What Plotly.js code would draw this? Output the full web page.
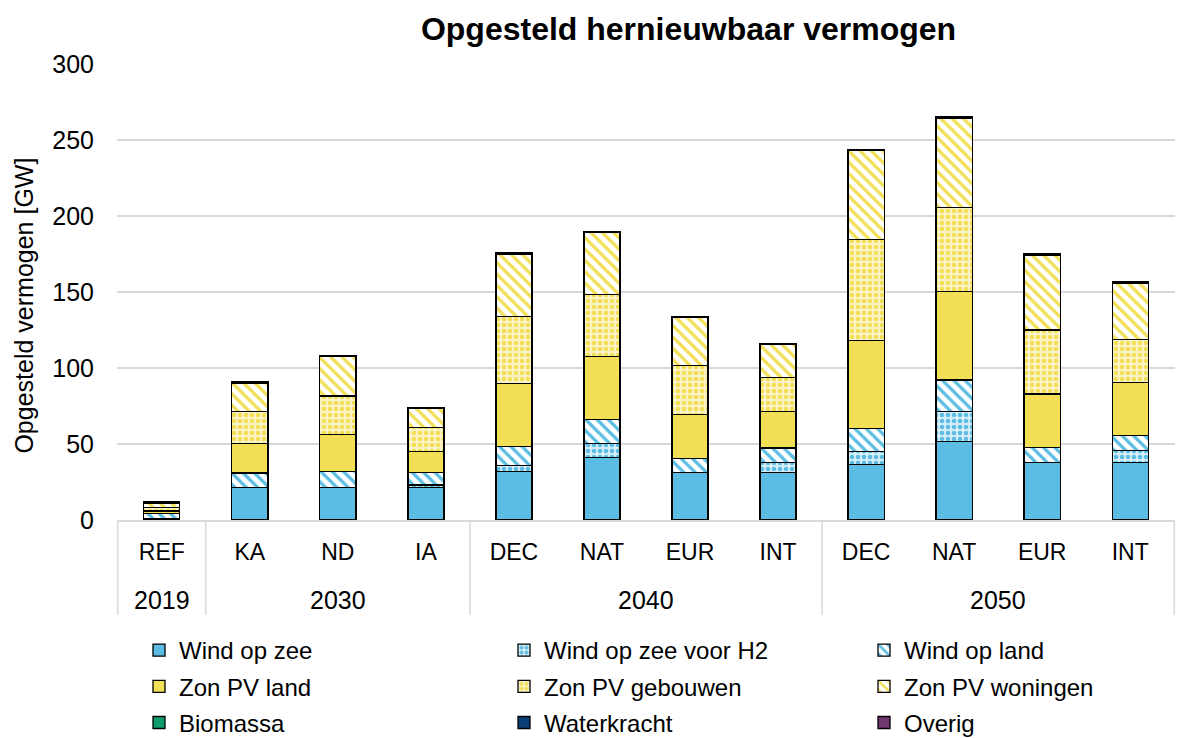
<!DOCTYPE html>
<html>
<head>
<meta charset="utf-8">
<script src="https://cdn.plot.ly/plotly-3.0.1.min.js"></script>
<style>
  html, body { margin: 0; padding: 0; background: #fff; }
  #chart { width: 1179px; height: 738px; }
</style>
</head>
<body>
<div id="chart"></div>
<script>
const years = ["2019", "2030", "2030", "2030", "2040", "2040", "2040", "2040", "2050", "2050", "2050", "2050"]
const scenarios = ["REF", "KA", "ND", "IA", "DEC", "NAT", "EUR", "INT", "DEC", "NAT", "EUR", "INT"]

// GW per scenario
const windOpZee = [1.0, 21.5, 21.2, 21.5, 31.9, 41.2, 31.4, 31.4, 36.4, 51.7, 37.9, 37.9]
const windOpZeeH2 = [0, 0, 0, 1.5, 3.9, 9.3, 0, 6.6, 8.5, 19.7, 0, 7.7]
const windOpLand = [3.5, 9.5, 10.8, 8.1, 12.5, 15.4, 9.2, 9.4, 15.2, 20.7, 9.9, 9.9]
const zonPvLand = [1.5, 19.5, 24.1, 13.8, 41.7, 41.7, 28.8, 24.1, 57.9, 58.1, 35.1, 35.1]
const zonPvGebouwen = [2.0, 20.7, 25.5, 15.9, 44.0, 40.6, 32.3, 22.4, 66.4, 55.5, 42.1, 28.0]
const zonPvWoningen = [3.0, 18.8, 25.9, 12.4, 40.8, 40.8, 31.4, 21.6, 58.6, 58.8, 49.4, 37.4]
const biomassa = [0.4, 0.4, 0.4, 0.4, 0.4, 0.4, 0.4, 0.4, 0.4, 0.4, 0.4, 0.4]
const waterkracht = [0.04, 0.04, 0.04, 0.04, 0.04, 0.04, 0.04, 0.04, 0.04, 0.04, 0.04, 0.04]
const overig = [0.4, 0.4, 0.4, 0.4, 0.4, 0.4, 0.4, 0.4, 0.4, 0.4, 0.4, 0.4]

// unique category keys, since scenario names repeat across years
const keys = years.map((y, i) => y + " " + scenarios[i])

const blue = "#5BBDE3"
const yellow = "#F2DF55"
const font = "Liberation Sans, Arial, sans-serif"

function bar(name, y, color, legend, pattern) {
  const marker = { color: color, line: { color: "#000", width: 1.3 } }
  if (pattern) marker.pattern = pattern
  return {
    type: "bar",
    name: name,
    x: keys,
    y: y,
    marker: marker,
    legend: legend,
    legendgroup: name,
    hoverinfo: "name+y",
  }
}

const data = [
  bar("Wind op zee", windOpZee, blue, "legend"),
  bar("Wind op zee voor H2", windOpZeeH2, "#D6EEF8", "legend2", { shape: ".", fgcolor: blue, bgcolor: "#D6EEF8", size: 6, solidity: 0.45 }),
  bar("Wind op land", windOpLand, "#fff", "legend3", { shape: "\\", fgcolor: blue, bgcolor: "#fff", size: 8, solidity: 0.4 }),
  bar("Zon PV land", zonPvLand, yellow, "legend"),
  bar("Zon PV gebouwen", zonPvGebouwen, "#FBF3C8", "legend2", { shape: ".", fgcolor: yellow, bgcolor: "#FBF3C8", size: 6, solidity: 0.45 }),
  bar("Zon PV woningen", zonPvWoningen, "#fff", "legend3", { shape: "\\", fgcolor: yellow, bgcolor: "#fff", size: 8, solidity: 0.4 }),
  bar("Biomassa", biomassa, "#0E9C6E", "legend"),
  bar("Waterkracht", waterkracht, "#0B3F7A", "legend2"),
  bar("Overig", overig, "#70386F", "legend3"),
]

// year groups: first/last category index of each year
const groups = []
years.forEach((y, i) => {
  const g = groups[groups.length - 1]
  if (g && g.year === y) g.last = i
  else groups.push({ year: y, first: i, last: i })
})

const dividerDepth = -0.208 // reaches below the axis, past the year labels
const shapes = [{ type: "line", xref: "x", yref: "paper", x0: -0.5, x1: -0.5, y0: 0, y1: dividerDepth, line: { color: "#D9D9D9", width: 1.5 } }]
groups.forEach((g) => {
  shapes.push({ type: "line", xref: "x", yref: "paper", x0: g.last + 0.5, x1: g.last + 0.5, y0: 0, y1: dividerDepth, line: { color: "#D9D9D9", width: 1.5 } })
})

const annotations = groups.map((g) => ({
  text: g.year,
  xref: "x",
  yref: "paper",
  x: (g.first + g.last) / 2,
  y: -0.176,
  yanchor: "middle",
  showarrow: false,
  font: { family: font, size: 25, color: "#000" },
}))

// y axis title, placed left of the tick labels
annotations.push({
  text: "Opgesteld vermogen [GW]",
  xref: "paper",
  yref: "paper",
  x: -0.088,
  y: 0.47,
  xanchor: "center",
  yanchor: "middle",
  textangle: -90,
  showarrow: false,
  font: { family: font, size: 25, color: "#000" },
})

function legendAt(px) {
  return {
    orientation: "v",
    traceorder: "grouped",
    tracegroupgap: 2,
    x: px / 1179,
    xref: "container",
    xanchor: "left",
    y: 1 - 628 / 738,
    yref: "container",
    yanchor: "top",
    itemwidth: 30,
    bgcolor: "rgba(0,0,0,0)",
    font: { family: font, size: 24, color: "#000" },
  }
}

const layout = {
  width: 1179,
  height: 738,
  margin: { l: 117, r: 4, t: 64, b: 218, autoexpand: false },
  paper_bgcolor: "#fff",
  plot_bgcolor: "#fff",
  font: { family: font, size: 22, color: "#000" },
  barmode: "stack",
  bargap: 0.59,
  title: {
    text: "<b>Opgesteld hernieuwbaar vermogen</b>",
    font: { family: font, size: 32, color: "#000" },
    x: 0.584,
    xref: "container",
    xanchor: "center",
    y: 0.961,
    yref: "container",
    yanchor: "middle",
  },
  xaxis: {
    type: "category",
    tickvals: keys,
    ticktext: scenarios,
    showline: true,
    linecolor: "#D9D9D9",
    linewidth: 1.5,
    ticks: "",
    ticklabelstandoff: 11,
    tickfont: { family: font, size: 23, color: "#000" },
  },
  yaxis: {
    range: [0, 300],
    dtick: 50,
    showgrid: true,
    gridcolor: "#D9D9D9",
    gridwidth: 1.5,
    zeroline: false,
    showline: false,
    ticks: "",
    ticklabelstandoff: 22,
    tickfont: { family: font, size: 25, color: "#000" },
  },
  shapes: shapes,
  annotations: annotations,
  showlegend: true,
  legend: legendAt(139),
  legend2: legendAt(504),
  legend3: legendAt(864),
}

Plotly.newPlot("chart", data, layout, { displayModeBar: false, staticPlot: true })
</script>
</body>
</html>
